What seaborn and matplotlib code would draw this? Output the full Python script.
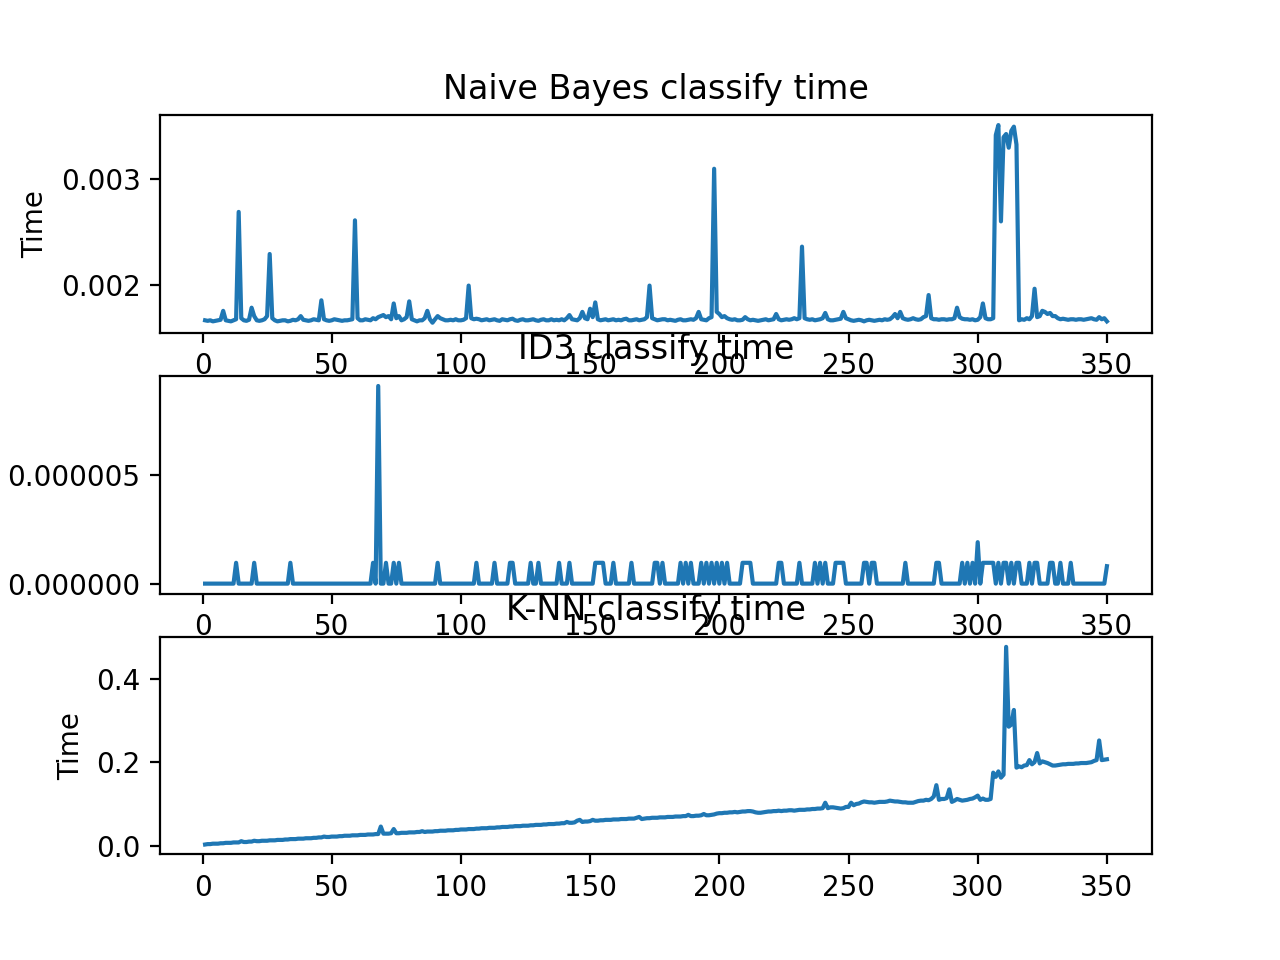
import numpy as np
import pandas as pd
import matplotlib
matplotlib.use('Agg')
import matplotlib.pyplot as plt
from matplotlib.ticker import FormatStrFormatter
import seaborn as sns

# Naive Bayes classify time, in microseconds (one value per test run 1..350)
NB_TIME_US = [
          1660, 1655, 1660, 1650, 1655, 1660, 1665, 1750, 1660,
    1655, 1650, 1660, 1670, 2690, 1680, 1660, 1655, 1665, 1780,
    1700, 1660, 1655, 1660, 1670, 1700, 2290, 1680, 1660, 1650,
    1655, 1660, 1660, 1650, 1655, 1665, 1660, 1670, 1700, 1665,
    1660, 1655, 1660, 1670, 1665, 1660, 1850, 1670, 1660, 1655,
    1660, 1670, 1665, 1660, 1655, 1660, 1660, 1665, 1670, 2610,
    1680, 1660, 1660, 1670, 1665, 1660, 1680, 1670, 1690, 1700,
    1710, 1690, 1700, 1670, 1820, 1680, 1700, 1660, 1670, 1690,
    1840, 1670, 1660, 1650, 1660, 1660, 1680, 1750, 1670, 1637,
    1670, 1700, 1680, 1670, 1660, 1660, 1665, 1660, 1670, 1660,
    1660, 1665, 1680, 1990, 1680, 1670, 1675, 1670, 1660, 1665,
    1670, 1660, 1665, 1670, 1660, 1655, 1670, 1665, 1660, 1670,
    1675, 1660, 1655, 1665, 1670, 1660, 1660, 1665, 1670, 1660,
    1655, 1665, 1670, 1660, 1660, 1670, 1660, 1665, 1660, 1670,
    1660, 1680, 1710, 1670, 1665, 1660, 1680, 1740, 1680, 1670,
    1770, 1690, 1830, 1670, 1660, 1665, 1670, 1660, 1665, 1670,
    1660, 1665, 1660, 1670, 1675, 1660, 1660, 1665, 1670, 1660,
    1665, 1670, 1690, 1990, 1680, 1670, 1660, 1665, 1670, 1670,
    1660, 1665, 1660, 1655, 1665, 1670, 1660, 1660, 1665, 1670,
    1665, 1680, 1740, 1670, 1665, 1660, 1680, 1690, 3100, 1740,
    1720, 1690, 1700, 1680, 1670, 1665, 1670, 1660, 1660, 1665,
    1690, 1670, 1660, 1665, 1660, 1655, 1660, 1665, 1670, 1660,
    1665, 1670, 1720, 1670, 1660, 1665, 1670, 1665, 1670, 1680,
    1670, 1680, 2360, 1680, 1670, 1665, 1670, 1660, 1665, 1670,
    1680, 1730, 1670, 1660, 1660, 1665, 1670, 1675, 1740, 1680,
    1670, 1660, 1655, 1660, 1665, 1660, 1650, 1660, 1665, 1660,
    1655, 1660, 1665, 1660, 1670, 1665, 1670, 1690, 1720, 1680,
    1740, 1680, 1670, 1665, 1670, 1680, 1670, 1665, 1670, 1690,
    1700, 1900, 1680, 1670, 1670, 1665, 1670, 1670, 1665, 1670,
    1670, 1680, 1780, 1690, 1675, 1670, 1670, 1665, 1670, 1660,
    1665, 1690, 1820, 1680, 1670, 1670, 1680, 3420, 3515, 2600,
    3400, 3430, 3300, 3460, 3500, 3330, 1660, 1670, 1665, 1680,
    1670, 1700, 1960, 1690, 1700, 1750, 1740, 1720, 1730, 1700,
    1700, 1680, 1670, 1675, 1670, 1665, 1670, 1670, 1665, 1670,
    1670, 1665, 1670, 1675, 1680, 1670, 1665, 1690, 1670, 1680,
    1650,
]

# ID3 classify time: zero almost everywhere, runs that took one clock tick (microseconds)
ID3_TICK_RUNS = [13, 20, 34, 66, 71, 74, 76, 91, 106, 113, 119, 120, 127, 130,
                 138, 142, 152, 153, 154, 155, 159, 166, 175, 176, 178, 185,
                 187, 189, 193, 195, 197, 199, 201, 203, 209, 210, 211, 212,
                 223, 224, 231, 237, 239, 241, 245, 246, 247, 248, 256, 257,
                 259, 260, 272, 284, 285, 294, 296, 298, 302, 303, 304, 305,
                 306, 308, 310, 311, 313, 315, 316, 320, 322, 323, 328, 329,
                 332, 336]
ID3_TICK_US = 0.954
ID3_OTHER_RUNS = [68, 300, 350]
ID3_OTHER_US = [9.06, 1.9, 0.8]

# K-NN classify time, in seconds (runs 1..350)
KNN_TIME = [
          .003, .004, .004, .005, .005, .005, .006, .006, .007,
    .007, .007, .008, .008, .008, .011, .009, .009, .010, .010,
    .012, .011, .011, .012, .012, .012, .013, .013, .013, .014,
    .014, .014, .015, .015, .016, .016, .016, .017, .017, .017,
    .018, .018, .018, .019, .019, .020, .020, .022, .021, .021,
    .022, .022, .022, .023, .023, .024, .024, .024, .025, .025,
    .025, .026, .026, .026, .027, .027, .027, .028, .028, .046,
    .029, .029, .029, .030, .040, .030, .030, .031, .031, .031,
    .032, .032, .032, .033, .033, .035, .033, .034, .034, .034,
    .035, .035, .036, .036, .036, .037, .037, .037, .038, .038,
    .039, .039, .039, .040, .040, .040, .041, .041, .042, .042,
    .042, .043, .043, .043, .044, .044, .045, .045, .045, .046,
    .046, .047, .047, .047, .048, .048, .048, .049, .049, .050,
    .050, .050, .051, .051, .052, .052, .052, .053, .053, .054,
    .054, .057, .055, .055, .056, .060, .062, .057, .058, .058,
    .059, .062, .060, .060, .061, .061, .062, .062, .062, .063,
    .063, .063, .064, .064, .064, .065, .065, .065, .067, .069,
    .064, .065, .066, .066, .067, .067, .067, .068, .068, .068,
    .069, .069, .069, .070, .070, .070, .071, .071, .074, .071,
    .071, .072, .072, .073, .076, .073, .073, .074, .075, .077,
    .078, .078, .079, .079, .080, .080, .081, .080, .081, .082,
    .082, .083, .083, .082, .080, .079, .079, .080, .081, .082,
    .082, .083, .083, .084, .083, .084, .084, .085, .085, .084,
    .085, .086, .086, .086, .087, .087, .088, .088, .089, .089,
    .090, .103, .090, .092, .092, .091, .090, .089, .090, .093,
    .093, .103, .097, .100, .101, .104, .106, .105, .104, .104,
    .103, .104, .105, .105, .105, .106, .108, .107, .106, .106,
    .105, .104, .104, .103, .103, .103, .105, .107, .108, .108,
    .110, .109, .112, .118, .145, .110, .112, .112, .114, .135,
    .105, .108, .112, .110, .108, .109, .110, .112, .113, .116,
    .120, .110, .113, .110, .110, .112, .175, .165, .178, .163,
    .170, .476, .285, .290, .325, .187, .190, .188, .192, .193,
    .205, .195, .200, .222, .197, .202, .200, .198, .195, .192,
    .192, .193, .194, .195, .195, .196, .196, .196, .197, .197,
    .198, .198, .198, .199, .200, .203, .205, .252, .205, .206,
    .207,
]


def build_frames():
    runs = np.arange(1, len(NB_TIME_US) + 1)
    nb = pd.DataFrame({'run': runs, 'time': np.array(NB_TIME_US) * 1e-6})

    id3_us = np.zeros(len(runs))
    id3_us[np.array(ID3_TICK_RUNS) - 1] = ID3_TICK_US
    id3_us[np.array(ID3_OTHER_RUNS) - 1] = ID3_OTHER_US
    id3 = pd.DataFrame({'run': runs, 'time': id3_us * 1e-6})

    knn = pd.DataFrame({'run': np.arange(1, len(KNN_TIME) + 1), 'time': KNN_TIME})
    return nb, id3, knn


def plot_all():
    nb, id3, knn = build_frames()
    fig, axes = plt.subplots(3, 1, figsize=(6.4, 4.8))

    panels = [
        (nb, 'Naive Bayes classify time', 'Time', '%.3f'),
        (id3, 'ID3 classify time', '', '%.6f'),
        (knn, 'K-NN classify time', 'Time', None),
    ]
    for ax, (df, title, ylabel, fmt) in zip(axes, panels):
        sns.lineplot(data=df, x='run', y='time', ax=ax, color='#1f77b4')
        ax.set_title(title)
        ax.set_xlabel('')
        ax.set_ylabel(ylabel)
        ax.set_xticks([0, 50, 100, 150, 200, 250, 300, 350])
        if fmt:
            ax.yaxis.set_major_formatter(FormatStrFormatter(fmt))

    axes[0].set_yticks([0.002, 0.003])
    axes[1].set_yticks([0.0, 0.000005])

    fig.savefig('out.png', dpi=200)
    plt.close(fig)


if __name__ == '__main__':
    plot_all()
